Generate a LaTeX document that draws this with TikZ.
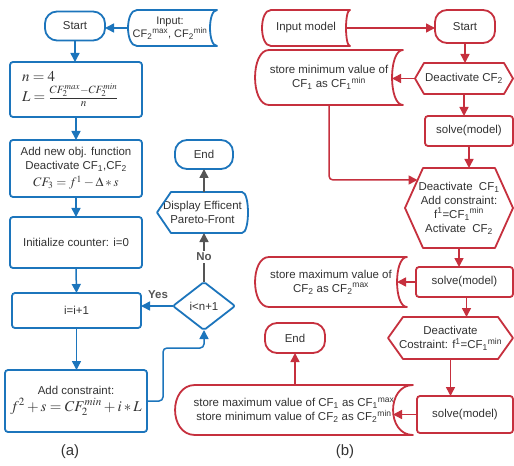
\documentclass[tikz,border=0pt]{standalone}
\usepackage{mathptmx}
\usepackage{fontspec}
\setmainfont{Liberation Sans}
\usetikzlibrary{arrows.meta,calc}
\definecolor{cblue}{RGB}{28,117,188}
\definecolor{cred}{RGB}{198,48,62}
\definecolor{cgray}{RGB}{85,85,85}
\definecolor{ctext}{RGB}{51,51,51}
\newcommand\mysb[1]{\textsubscript{#1}}
\newcommand\mysp[1]{\textsuperscript{#1}}
\newcommand\sdshape[4]{%
 \draw[#1] ([xshift=#3bp]#2.north west) -- (#2.north east)
   .. controls +(-1.33*#4,0) and +(-1.33*#4,0) .. (#2.south east)
   -- ([xshift=#3bp]#2.south west)
   .. controls +(-1.33*#3,0) and +(-1.33*#3,0) .. ([xshift=#3bp]#2.north west) -- cycle;}
\newcommand\hexshape[3]{%
 \draw[#1] (#2.west) -- ([xshift=#3bp]#2.north west) -- ([xshift=-#3bp]#2.north east)
   -- (#2.east) -- ([xshift=-#3bp]#2.south east) -- ([xshift=#3bp]#2.south west) -- cycle;}
\newcommand\dispshape[4]{%
 \draw[#1] (#2.west) -- ([xshift=#3bp]#2.north west) -- ([xshift=-#4bp]#2.north east)
   .. controls +(1.33*#4,0) and +(1.33*#4,0) .. ([xshift=-#4bp]#2.south east)
   -- ([xshift=#3bp]#2.south west) -- cycle;}
\tikzset{
 base/.style={inner sep=0pt, outer sep=0pt, align=center, text=ctext,
   font=\fontsize{11.5}{14}\selectfont},
 shp/.style={base},
 bline/.style={draw=cblue, line width=1.8bp, line join=round},
 rline/.style={draw=cred, line width=1.8bp, line join=round},
 bbox/.style={base, draw=cblue, line width=1.8bp, rounded corners=3bp},
 rbox/.style={base, draw=cred, line width=1.8bp, rounded corners=3bp},
 bpill/.style={base, draw=cblue, line width=1.8bp, rounded corners=12bp},
 rpill/.style={base, draw=cred, line width=1.8bp, rounded corners=12bp},
 tip/.style={-{Triangle[length=9bp,width=9bp]}},
 barr/.style={draw=cblue, line width=1.5bp, tip},
 rarr/.style={draw=cred, line width=1.5bp, tip},
 garr/.style={draw=cgray, line width=1.5bp, tip},
 lbl/.style={base, font=\fontsize{11.5}{14}\selectfont\bfseries, text=cgray},
 captxt/.style={base, font=\fontsize{15}{18}\selectfont},
}
\begin{document}
\begin{tikzpicture}[x=1bp,y=-1bp]
\useasboundingbox[fill=white] (0,0) rectangle (514,466);

% ---------------- (a) ----------------
\node[bpill, minimum width=60bp, minimum height=29bp] (startA) at (75,26) {Start};
\node[shp, minimum width=89bp, minimum height=36bp, font=\fontsize{11}{13}\selectfont] (inpA) at (170,28)
  {Input:\\CF\mysb{2}\mysp{max}, CF\mysb{2}\mysp{min}};
\path (inpA) ++(2.5,0) node[shp, minimum width=89bp, minimum height=36bp] (inpAo) {};
\sdshape{bline}{inpAo}{9}{7}

\node[bbox, minimum width=132bp, minimum height=55bp] (boxN) at (76,89.5) {};
\node[base, anchor=west, align=left, font=\fontsize{15}{15}\selectfont] (mN) at (22,89)
  {$n=4$\\[1pt]$L=\frac{CF_2^{max}-CF_2^{min}}{n}$};

\node[bbox, minimum width=132bp, minimum height=57bp] (boxObj) at (76,168.5)
  {Add new obj. function\\Deactivate CF\mysb{1},CF\mysb{2}\\[3pt]{\fontsize{13}{14}\selectfont$CF_3=f^1-\Delta*s$}};
\node[bbox, minimum width=132bp, minimum height=51bp] (boxInit) at (76,242.5)
  {Initialize counter: i=0};
\node[bbox, minimum width=129bp, minimum height=35bp] (boxInc) at (76.5,310.5) {i=i+1};
\node[bbox, minimum width=142bp, minimum height=62bp] (boxCon) at (76,401)
  {Add constraint:\\[3pt]{\fontsize{15}{16}\selectfont$f^2+s=CF_2^{min}+i*L$}};

\node[shp, minimum width=62bp, minimum height=48bp] (dia) at (204,306) {i<n+1};
\draw[bline, rounded corners=2bp] (dia.north) -- (dia.east) -- (dia.south) -- (dia.west) -- cycle;

\node[shp, minimum width=91bp, minimum height=41bp] (disp) at (202.5,212.5)
  {Display Efficent\\Pareto-Front};
\dispshape{bline}{disp}{14}{6}

\node[bpill, minimum width=58bp, minimum height=29bp] (endA) at (204,154.5) {End};

\draw[barr] (inpAo.west) -- (inpAo.west -| startA.east);
\draw[barr] (startA.south) -- (startA.south |- boxN.north);
\draw[barr] (boxN.south) -- (boxObj.north);
\draw[barr] (boxObj.south) -- (boxInit.north);
\draw[barr] (boxInit.south) -- (boxInc.north);
\draw[barr] (boxInc.south) -- (boxInc.south |- boxCon.north);
\coordinate (cA) at (163,348);
\draw[barr, rounded corners=4bp] (boxCon.east) -| (cA) -| (dia.south);
\draw[barr] (dia.west) -- (dia.west -| boxInc.east);
\node[lbl] (yes) at (158,295) {Yes};
\draw[garr] (dia.north) -- (dia.north |- disp.south);
\node[lbl, fill=white, inner sep=2pt] (no) at (204,257) {No};
\draw[garr] (endA.south |- disp.north) -- (endA.south);

\node[captxt] (capA) at (70,452) {(a)};

% ---------------- (b) ----------------
\node[shp, minimum width=88bp, minimum height=36bp] (inpB) at (306,28) {Input model};
\sdshape{rline}{inpB}{9}{4}
\node[rpill, minimum width=60bp, minimum height=33bp] (startB) at (465,26.5) {Start};

\node[shp, minimum width=98bp, minimum height=31bp] (hex1) at (464,78.5) {Deactivate CF\mysb{2}};
\hexshape{rline}{hex1}{9}
\node[shp, minimum width=148bp, minimum height=55bp] (sdMin) at (329,77.5)
  {store minimum value of\\CF\mysb{1} as CF\mysb{1}\mysp{min}};
\sdshape{rline}{sdMin}{14}{11}

\node[rbox, minimum width=88bp, minimum height=30bp] (solve1) at (469,131) {solve(model)};

\node[shp, minimum width=108bp, minimum height=80bp] (hex2) at (459,208)
  {Deactivate\ \ CF\mysb{1}\\Add constraint:\\f\mysp{1}=CF\mysb{1}\mysp{min}\\Activate\ \ CF\mysb{2}};
\hexshape{rline}{hex2}{18}

\node[rbox, minimum width=97bp, minimum height=30bp] (solve2) at (464.5,282) {solve(model)};
\node[shp, minimum width=152bp, minimum height=50bp] (sdMax) at (331,282)
  {store maximum value of\\CF\mysb{2} as CF\mysb{2}\mysp{max}};
\sdshape{rline}{sdMax}{14}{10}

\node[shp, minimum width=125bp, minimum height=42bp] (hex3) at (450.5,338)
  {Deactivate\\Costraint: f\mysp{1}=CF\mysb{1}\mysp{min}};
\hexshape{rline}{hex3}{15}

\node[rbox, minimum width=96bp, minimum height=37bp] (solve3) at (465,414.5) {solve(model)};
\node[shp, minimum width=238bp, minimum height=50bp] (sdBoth) at (294,410)
  {store maximum value of CF\mysb{1} as CF\mysb{1}\mysp{max}\\store minimum value of CF\mysb{2} as CF\mysb{2}\mysp{min}};
\sdshape{rline}{sdBoth}{20}{20}

\node[rpill, minimum width=60bp, minimum height=30bp] (endB) at (295,338) {End};

\draw[rarr] ([xshift=-3bp]inpB.east) -- (startB.west |- inpB.east);
\draw[rarr] (startB.south) -- (startB.south |- hex1.north);
\draw[rarr] (hex1.west) -- ($(hex1.west -| sdMin.east)+(-11,0)$);
\draw[rarr] (hex1.south) -- (hex1.south |- solve1.north);
\draw[rarr] (solve1.south) -- (solve1.south |- hex2.north);
\coordinate (h2in) at (417.5,180);
\draw[rarr, rounded corners=4bp] (sdMin.south) |- (h2in);
\draw[rarr] (hex2.south) -- (hex2.south |- solve2.north);
\draw[rarr] (solve2.west) -- ([xshift=-10bp]sdMax.east);
\draw[rarr] ([xshift=2bp]solve2.south) -- ([xshift=2bp]solve2.south |- hex3.north);
\draw[rarr] (hex3.south) -- (hex3.south |- solve3.north);
\draw[rarr] (solve3.west) -- ($(solve3.west -| sdBoth.east)+(-20,0)$);
\draw[rarr] (endB.south |- sdBoth.north) -- (endB.south);

\node[captxt] (capB) at (345,452) {(b)};
\end{tikzpicture}
\end{document}
